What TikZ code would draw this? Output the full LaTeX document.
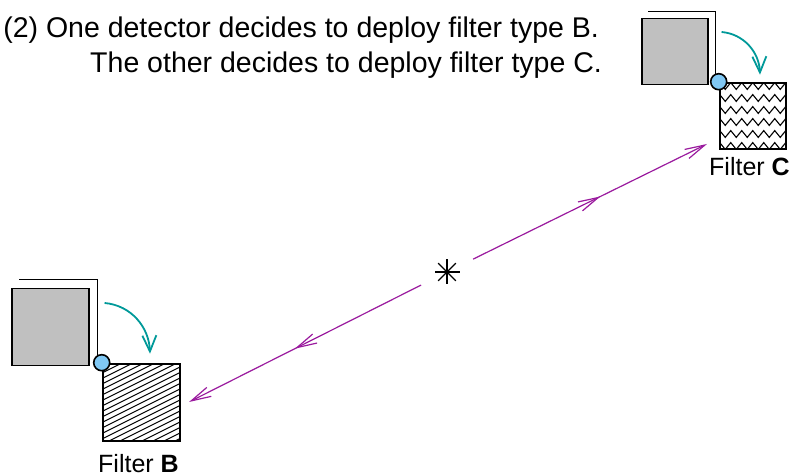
\documentclass[tikz,border=0pt]{standalone}
\usepackage{fontspec}
\setmainfont{Liberation Sans}
\usetikzlibrary{arrows.meta,positioning,calc,decorations.pathmorphing,decorations.markings}
\definecolor{DetGray}{HTML}{C0C0C0}
\definecolor{PortBlue}{HTML}{80C8F4}
\definecolor{DecideTeal}{HTML}{009999}
\definecolor{FlowPurple}{HTML}{9A1A9E}

\begin{document}
\begin{tikzpicture}[x=0.5pt,y=0.5pt,
    detbox/.style={draw,line width=0.6pt,fill=DetGray,inner sep=0pt},
    filterbox/.style={draw,line width=1.3pt,fill=white,inner sep=0pt},
    port/.style={circle,draw,line width=0.8pt,fill=PortBlue,minimum size=8pt,inner sep=0pt},
    decide/.style={DecideTeal,line width=0.9pt,-{Straight Barb[length=8pt,width=7pt]}},
    flow/.style={FlowPurple,line width=0.6pt,shorten <=14.5pt,
      -{Straight Barb[length=10pt,width=5pt]},
      postaction={decorate},
      decoration={markings,mark=at position 0.59 with {\arrow{Straight Barb[length=10pt,width=5pt]}}}},
    lbl/.style={font=\fontsize{12.5}{15}\selectfont,anchor=base}]
  \useasboundingbox (0,0) rectangle (789,476);

  % caption
  \node[anchor=base east,font=\fontsize{14.25}{17}\selectfont] (capOne) at (606,438)
    {(2) One detector decides to deploy filter type B.};
  \node[anchor=base east,font=\fontsize{14.25}{17}\selectfont] (capTwo) at ([xshift=1.5pt,yshift=-17.5pt]capOne.base east)
    {The other decides to deploy filter type C.};

  % detector and filter B
  \node[detbox,minimum size=38.5pt] (detB) at (50.5,149) {};
  \draw[line width=0.5pt] ($(detB.north west)+(8,8)$) -| ($(detB.south east)+(8,8)$);
  \node[filterbox,minimum size=38.5pt,
    path picture={\foreach \c in {-80,-74.5,...,80}
      \draw[line width=0.55pt] ($(path picture bounding box.south west)+(0,\c)$) -- ++(100,50);}]
    (filterB) at (141.5,73.5) {};
  \node[port] (portB) at (filterB.north west) {};
  \draw[decide] ($(detB.east)+(15,24)$) to[out=-5,in=92] ($(filterB.north)+(8.5,9)$);
  \node[lbl] (labB) at ([xshift=-1.5pt,yshift=-15pt]filterB.south) {Filter \textbf{B}};

  % detector and filter C
  \node[detbox,minimum size=33pt] (detC) at (675,424.5) {};
  \draw[line width=0.5pt] ($(detC.north west)+(7,6)$) -| ($(detC.south east)+(7,6)$);
  \node[filterbox,minimum size=33pt,
    path picture={\foreach \r in {3,15,...,63}
      \draw[line width=0.55pt,decorate,decoration={zigzag,segment length=5.5pt,amplitude=1.7pt}]
        ($(path picture bounding box.north west)+(-3,-\r)$) -- ++(80,0);}]
    (filterC) at (753,360) {};
  \node[port] (portC) at (filterC.north west) {};
  \draw[decide] ($(detC.east)+(13,19.5)$) to[out=-5,in=92] ($(filterC.north)+(7,7)$);
  \node[lbl] (labC) at ([xshift=-1.75pt,yshift=-12.5pt]filterC.south) {Filter \textbf{C}};

  % source of the attack
  \coordinate (src) at (447,204);
  \foreach \a in {0,45,90,135}
    \draw[line width=0.6pt] (src) ++(\a:12.5) -- ++(\a+180:25);
  \coordinate (tipB) at (189,74);
  \coordinate (tipC) at (707,332);
  \draw[flow] (src) -- (tipB);
  \draw[flow] (src) -- (tipC);
\end{tikzpicture}
\end{document}
